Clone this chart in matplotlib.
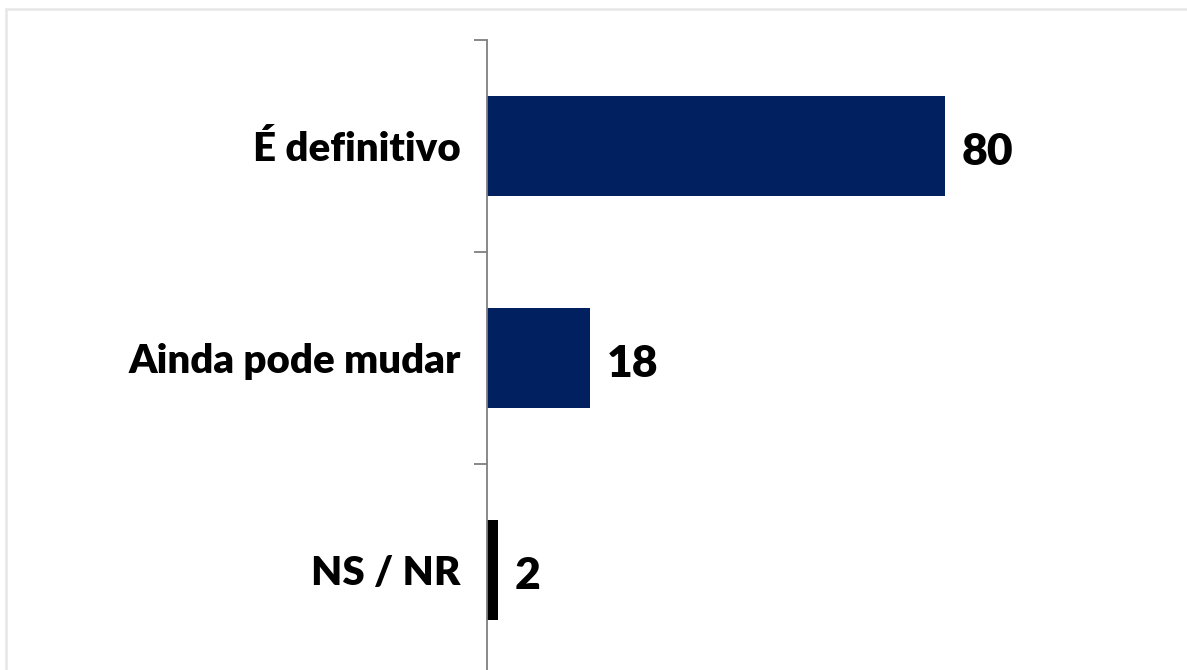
import matplotlib.pyplot as plt
from matplotlib.patches import Rectangle

# ================= DATA =================
categories = ["É definitivo", "Ainda pode mudar", "NS / NR"]
values = [80, 18, 2]
bar_colors = ["#002060", "#002060", "#000000"]

plt.rcParams['font.family'] = ['Lato', 'DejaVu Sans']

W, H = 1187, 670
fig = plt.figure(figsize=(W / 100, H / 100), dpi=100)
fig.patch.set_facecolor("white")

# light frame around the slide
fig.patches.append(Rectangle((6 / W, -0.1), 1.2, 1 - 9 / H + 0.1, transform=fig.transFigure,
                             fill=False, edgecolor="#e6e6e6", linewidth=1.8))

ax = fig.add_axes([487 / W, -6 / H, 700 / W, 636 / H])
ax.set_facecolor("none")

y = list(range(len(categories)))
ax.barh(y, values, height=0.476, color=bar_colors)

ax.set_ylim(len(categories) - 0.5, -0.5)
ax.set_xlim(0, 700 / 5.725)

for s in ["top", "right", "bottom"]:
    ax.spines[s].set_visible(False)
ax.spines["left"].set_color("#7f7f7f")
ax.spines["left"].set_linewidth(1.3)

ax.set_xticks([])
ax.set_yticks(y)
ax.set_yticklabels(categories, fontsize=29, fontweight="heavy")
ax.tick_params(axis="y", which="major", length=0, pad=19)
ax.set_yticks([i - 0.5 for i in range(len(categories) + 1)], minor=True)
ax.tick_params(axis="y", which="minor", length=9.5, width=1.3, color="#7f7f7f", direction="out")

for yi, v in zip(y, values):
    ax.annotate(str(v), (v, yi), xytext=(12, -4), textcoords="offset points",
                va="center", ha="left", fontsize=32, fontweight="heavy")

fig.savefig("out.png", dpi=100)
